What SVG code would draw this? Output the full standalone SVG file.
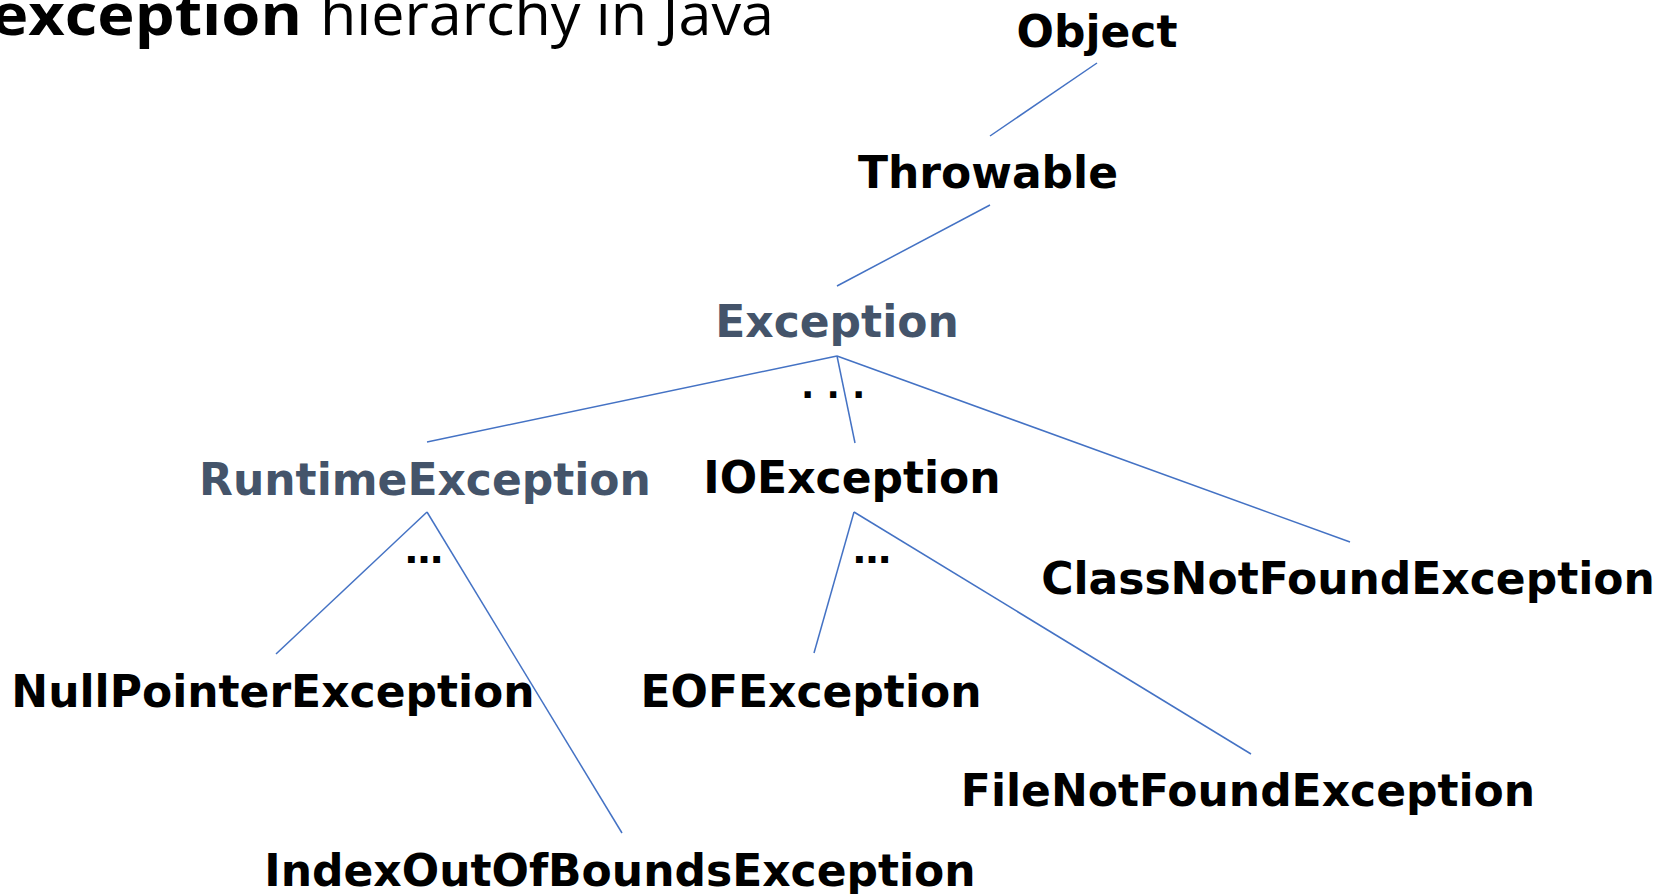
<svg xmlns="http://www.w3.org/2000/svg" width="1674" height="894" viewBox="0 0 1674 894">
<style>
.n{font-family:"DejaVu Sans",Verdana,sans-serif;font-weight:bold;font-size:44px;fill:#000;text-anchor:middle}
.s{fill:#44546A}
.d{font-family:"DejaVu Sans",Verdana,sans-serif;font-weight:bold;fill:#000}
.c line{stroke:#4472C4;stroke-width:1.5;fill:none}
.t{font-family:"Open Sans","Noto Sans",sans-serif;font-size:58px;fill:#000}
</style>
<rect width="1674" height="894" fill="#fff"/>
<g id="title">
<text class="t" x="-9" y="35" font-weight="bold" textLength="311" lengthAdjust="spacingAndGlyphs">exception</text>
<text class="t" x="320" y="35" textLength="454" lengthAdjust="spacingAndGlyphs">hierarchy in Java</text>
</g>
<g class="c" id="connectors">
<line x1="1097" y1="63" x2="990" y2="136"/>
<line x1="990" y1="205" x2="837" y2="286"/>
<line x1="837" y1="356" x2="427" y2="442"/>
<line x1="837" y1="356" x2="855" y2="443"/>
<line x1="837" y1="356" x2="1350" y2="542"/>
<line x1="427" y1="512" x2="276" y2="654"/>
<line x1="427" y1="512" x2="622" y2="833"/>
<line x1="854" y1="512" x2="814" y2="653"/>
<line x1="854" y1="512" x2="1251" y2="754"/>
</g>
<g id="object"><text class="n" x="1097" y="47">Object</text></g>
<g id="throwable"><text class="n" x="988" y="188">Throwable</text></g>
<g id="exception"><text class="n s" x="837" y="337">Exception</text></g>
<g id="exception-more"><text class="d" x="801" y="398" font-size="35">. . .</text></g>
<g id="runtimeexception"><text class="n s" x="425" y="495">RuntimeException</text></g>
<g id="runtime-more"><text class="d" x="424" y="563" font-size="38" text-anchor="middle">…</text></g>
<g id="ioexception"><text class="n" x="852" y="493">IOException</text></g>
<g id="io-more"><text class="d" x="872" y="563" font-size="38" text-anchor="middle">…</text></g>
<g id="classnotfoundexception"><text class="n" x="1348" y="594">ClassNotFoundException</text></g>
<g id="nullpointerexception"><text class="n" x="273" y="707">NullPointerException</text></g>
<g id="eofexception"><text class="n" x="811" y="707">EOFException</text></g>
<g id="filenotfoundexception"><text class="n" x="1248" y="806">FileNotFoundException</text></g>
<g id="indexoutofboundsexception"><text class="n" x="620" y="886">IndexOutOfBoundsException</text></g>
</svg>
